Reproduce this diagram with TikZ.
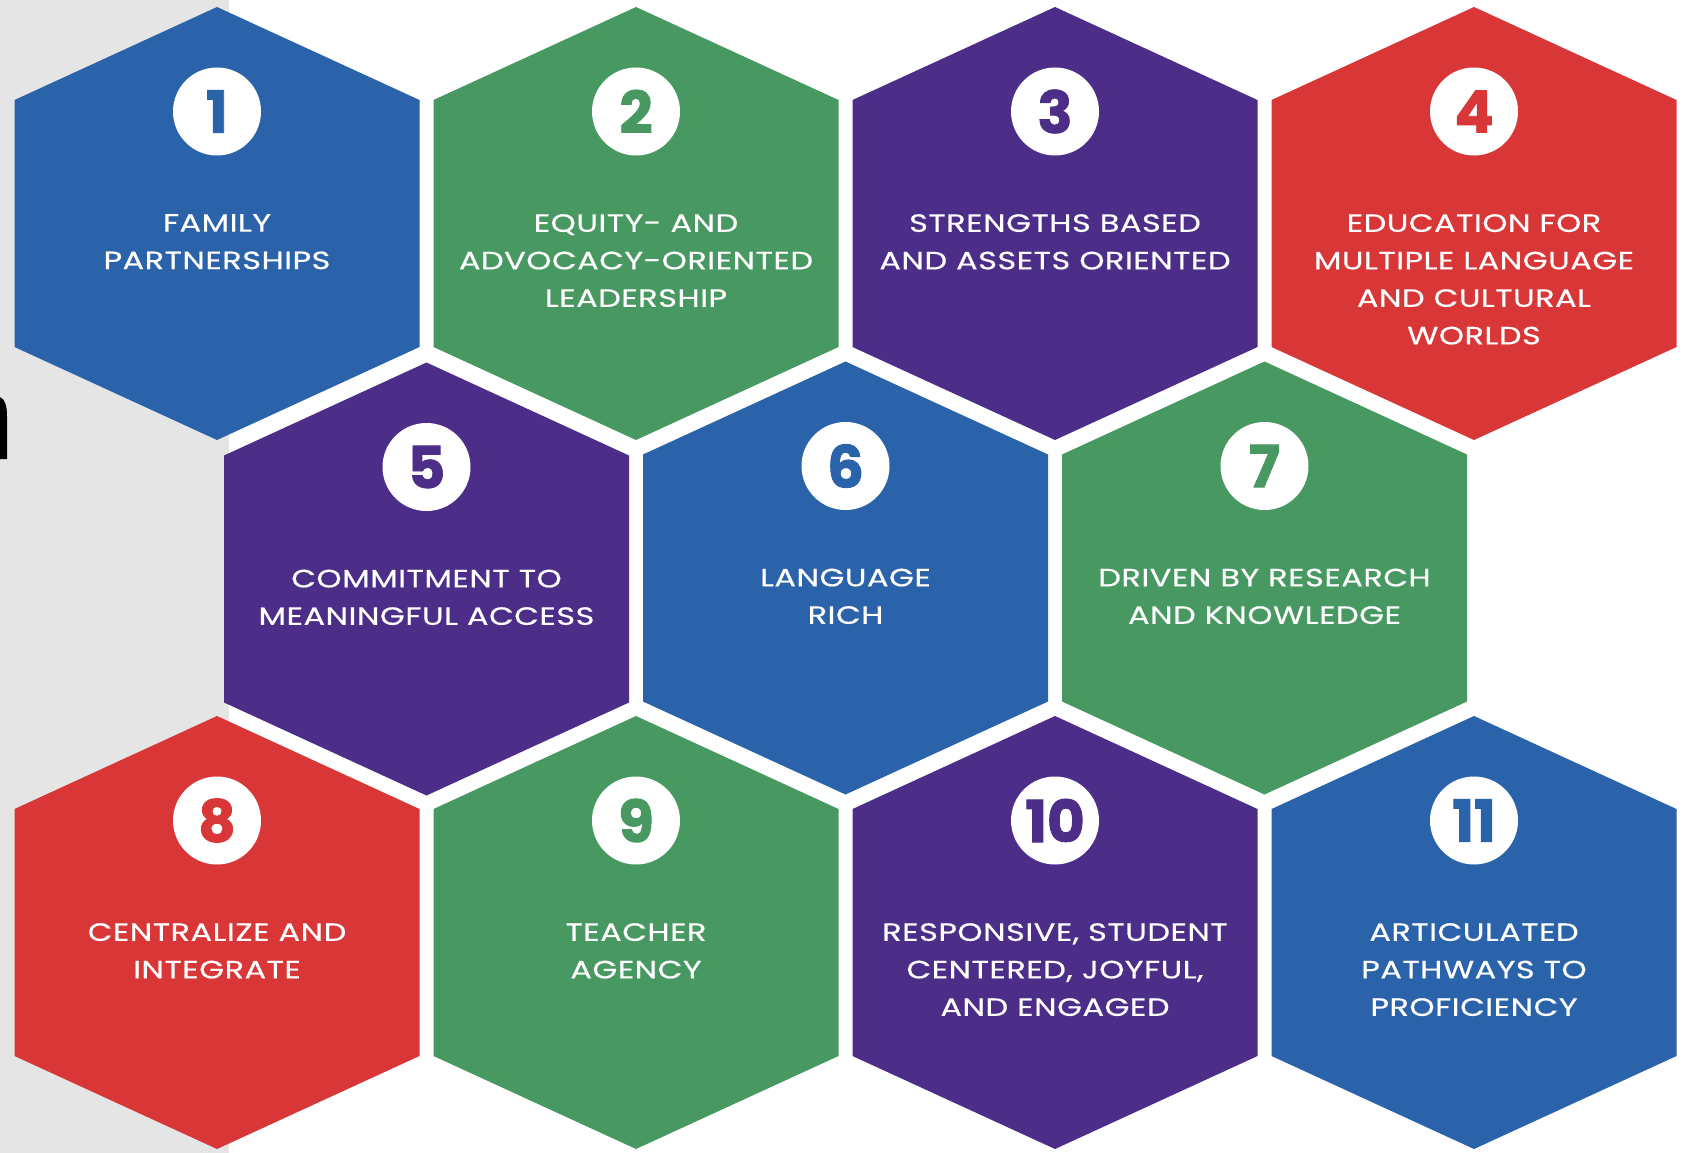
\documentclass[tikz,border=0pt]{standalone}
\usepackage{fontspec}
\setmainfont{Poppins}
\newfontfamily\celltextfont{Poppins}[FakeStretch=1.28, LetterSpace=2, FakeBold=0.5]
\newfontfamily\numfont{Poppins}[FakeBold=1.5]
\definecolor{hblue}{RGB}{43,99,171}
\definecolor{hgreen}{RGB}{72,153,97}
\definecolor{hpurple}{RGB}{76,46,137}
\definecolor{hred}{RGB}{217,54,56}
\definecolor{bggray}{RGB}{229,229,229}
\tikzset{
  numdisc/.style={circle, fill=white, minimum size=88pt, inner sep=0pt,
    font=\numfont\fontsize{58}{58}\selectfont\bfseries},
  celltext/.style={anchor=north, align=center, text=white, inner sep=0pt,
    font=\celltextfont\fontsize{25}{37.5}\selectfont}
}
\newcommand\hexcell[6]{%
  \fill[#4, shift={(#2,#3)}] (0,-216.5) -- (202.5,-123.5) -- (202.5,123.5)
     -- (0,216.5) -- (-202.5,123.5) -- (-202.5,-123.5) -- cycle;
  \node[numdisc, text=#4] (#1n) at (#2,#3-112) {#5};
  \node[celltext] (#1t) at (#2,#3-9.5) {#6};
}
\begin{document}
\begin{tikzpicture}[x=1pt,y=-1pt]
  \useasboundingbox (0,0) rectangle (1691,1153);
  \fill[white] (0,0) rectangle (1691,1153);
  \fill[bggray] (0,0) rectangle (229,1153);
  \fill[black] (0,397) .. controls (5,399) and (7,406) .. (7,416) -- (7,459) -- (0,459) -- cycle;
  % row 1
  \hexcell{h1}{217}{223.5}{hblue}{1}{FAMILY\\PARTNERSHIPS}
  \hexcell{h2}{636}{223.5}{hgreen}{2}{EQUITY- AND\\ADVOCACY-ORIENTED\\LEADERSHIP}
  \hexcell{h3}{1055}{223.5}{hpurple}{3}{STRENGTHS BASED\\AND ASSETS ORIENTED}
  \hexcell{h4}{1474}{223.5}{hred}{4}{EDUCATION FOR\\MULTIPLE LANGUAGE\\AND CULTURAL\\WORLDS}
  % row 2
  \hexcell{h5}{426.5}{579}{hpurple}{5}{COMMITMENT TO\\MEANINGFUL ACCESS}
  \hexcell{h6}{845.5}{578}{hblue}{6}{LANGUAGE\\RICH}
  \hexcell{h7}{1264.5}{578}{hgreen}{7}{DRIVEN BY RESEARCH\\AND KNOWLEDGE}
  % row 3
  \hexcell{h8}{217}{932.5}{hred}{8}{CENTRALIZE AND\\INTEGRATE}
  \hexcell{h9}{636}{932.5}{hgreen}{9}{TEACHER\\AGENCY}
  \hexcell{h10}{1055}{932.5}{hpurple}{10}{RESPONSIVE, STUDENT\\CENTERED, JOYFUL,\\AND ENGAGED}
  \hexcell{h11}{1474}{932.5}{hblue}{11}{ARTICULATED\\PATHWAYS TO\\PROFICIENCY}
\end{tikzpicture}
\end{document}
